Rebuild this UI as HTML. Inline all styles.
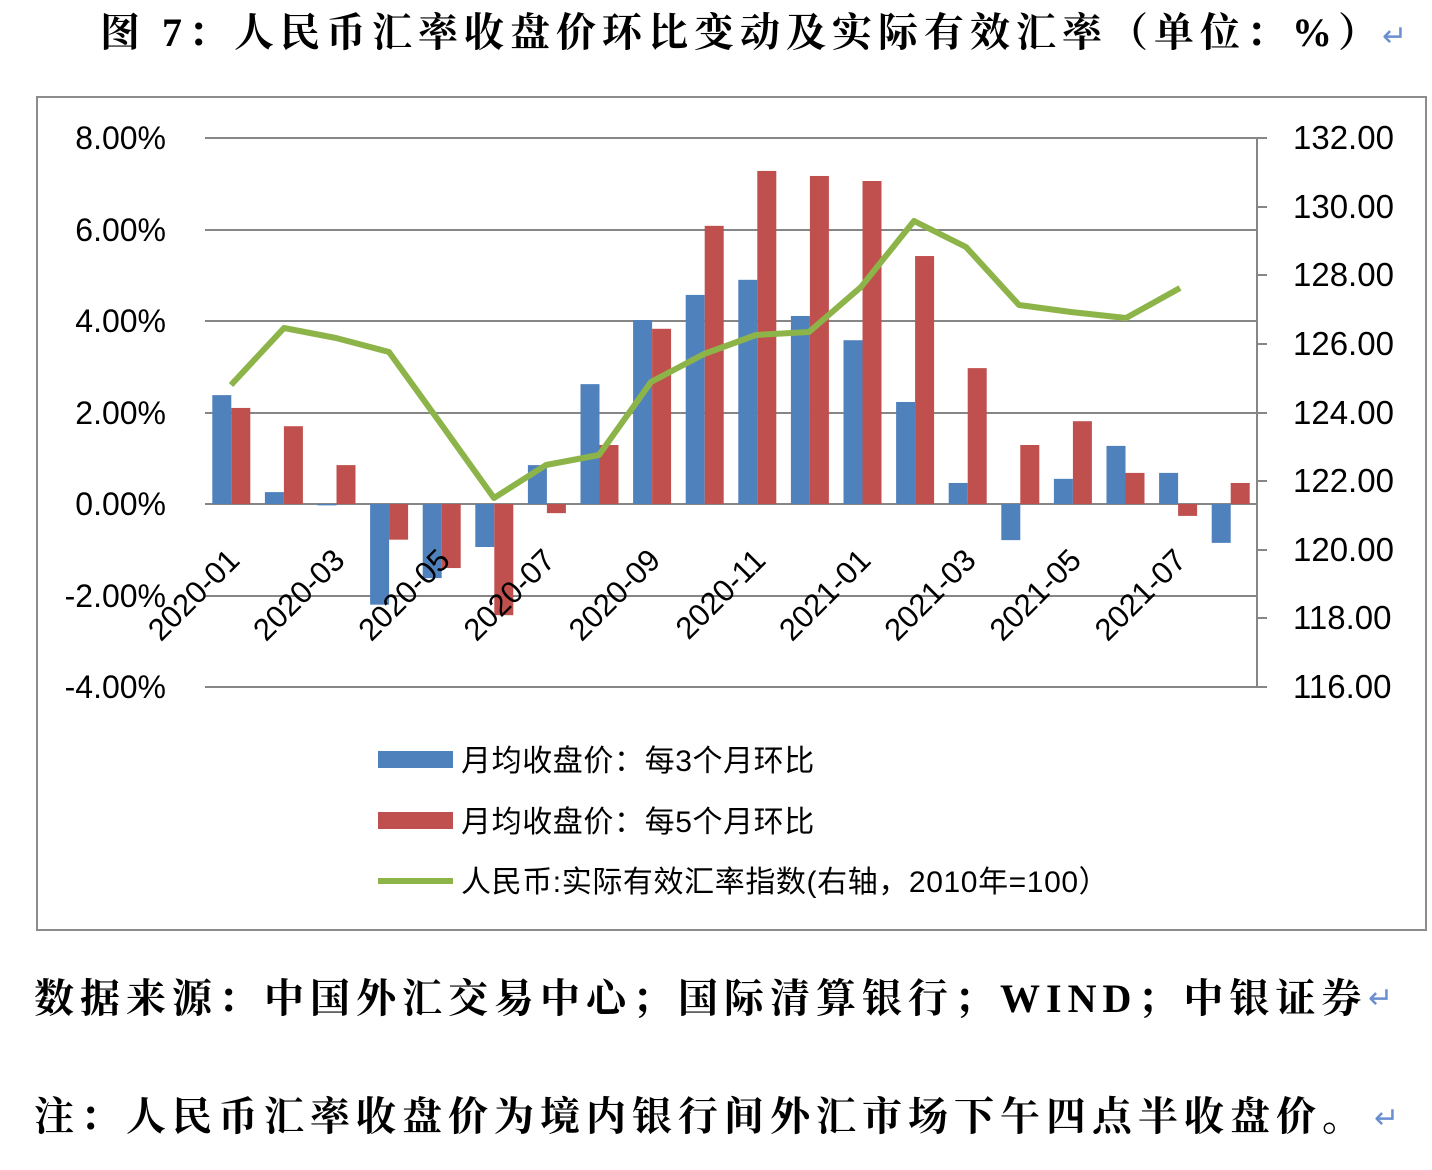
<!DOCTYPE html>
<html><head><meta charset="utf-8"><style>
html,body{margin:0;padding:0;background:#fff;}
svg{display:block;}
.t{font-family:"Liberation Serif","Noto Serif CJK SC",serif;font-weight:bold;}
.s{font-family:"Liberation Sans","Noto Sans CJK SC",sans-serif;}
</style></head><body>
<svg width="1432" height="1170" xmlns="http://www.w3.org/2000/svg">
<text class="t" x="100" y="46" font-size="40" letter-spacing="6">图 7：人民币汇率收盘价环比变动及实际有效汇率（单位：%）</text>
<text x="1382" y="46" font-size="30" fill="#6a8fd0" class="s">↵</text>
<rect x="37" y="97" width="1389" height="833" fill="none" stroke="#8c8c8c" stroke-width="2"/>
<g stroke="#868686" stroke-width="2">
<line x1="205" y1="138" x2="1257" y2="138"/><line x1="205" y1="230" x2="1257" y2="230"/>
<line x1="205" y1="321" x2="1257" y2="321"/><line x1="205" y1="413" x2="1257" y2="413"/>
<line x1="205" y1="504" x2="1257" y2="504"/><line x1="205" y1="596" x2="1257" y2="596"/>
<line x1="205" y1="687" x2="1257" y2="687"/>
<line x1="1257" y1="138" x2="1257" y2="687"/>
<line x1="1257" y1="138" x2="1267" y2="138"/><line x1="1257" y1="207" x2="1267" y2="207"/>
<line x1="1257" y1="275" x2="1267" y2="275"/><line x1="1257" y1="344" x2="1267" y2="344"/>
<line x1="1257" y1="413" x2="1267" y2="413"/><line x1="1257" y1="481" x2="1267" y2="481"/>
<line x1="1257" y1="550" x2="1267" y2="550"/><line x1="1257" y1="618" x2="1267" y2="618"/>
<line x1="1257" y1="687" x2="1267" y2="687"/>
</g>
<g class="s" font-size="32" fill="#000" text-anchor="end">
<text x="166" y="149">8.00%</text><text x="166" y="241">6.00%</text><text x="166" y="332">4.00%</text>
<text x="166" y="424">2.00%</text><text x="166" y="515">0.00%</text><text x="166" y="607">-2.00%</text>
<text x="166" y="698">-4.00%</text>
</g>
<g class="s" font-size="33" fill="#000">
<text x="1293" y="149">132.00</text><text x="1293" y="218">130.00</text><text x="1293" y="286">128.00</text>
<text x="1293" y="355">126.00</text><text x="1293" y="424">124.00</text><text x="1293" y="492">122.00</text>
<text x="1293" y="561">120.00</text><text x="1293" y="629">118.00</text><text x="1293" y="698">116.00</text>
</g>
<g id="bars"></g>
<polyline fill="none" stroke="#8db449" stroke-width="6" stroke-linejoin="round" points="231,385 284,328 336,338 389,352 441,424 494,498 546,465 599,455 651,382 704,354 756,335 809,332 861,287 914,221 966,247 1019,305 1071,312 1126,318 1180,288"/>
<g id="xl" class="s" font-size="31" fill="#000"></g>
<rect x="378" y="751" width="75" height="17" fill="#4f81bd"/>
<rect x="378" y="812" width="75" height="17" fill="#c0504d"/>
<line x1="378" y1="881" x2="453" y2="881" stroke="#8db449" stroke-width="6"/>
<g class="s" font-size="30" fill="#000" letter-spacing="0.6">
<text x="461" y="771">月均收盘价：每3个月环比</text>
<text x="461" y="832">月均收盘价：每5个月环比</text>
<text x="461" y="892">人民币:实际有效汇率指数(右轴，2010年=100）</text>
</g>
<text class="t" x="34" y="1012" font-size="40" letter-spacing="6">数据来源：中国外汇交易中心；国际清算银行；WIND；中银证券</text>
<text x="1368" y="1008" font-size="30" fill="#6a8fd0" class="s">↵</text>
<text class="t" x="34" y="1130" font-size="40" letter-spacing="6">注：人民币汇率收盘价为境内银行间外汇市场下午四点半收盘价。</text>
<text x="1374" y="1128" font-size="30" fill="#6a8fd0" class="s">↵</text>
</svg>
<script>
var b=[2.38,0.26,-0.03,-2.2,-1.62,-0.94,0.85,2.62,4.02,4.57,4.9,4.11,3.58,2.23,0.46,-0.79,0.55,1.27,0.68,-0.85];
var r=[2.10,1.70,0.85,-0.78,-1.4,-2.43,-0.2,1.29,3.83,6.08,7.28,7.17,7.06,5.42,2.97,1.29,1.81,0.68,-0.26,0.46];
var g=document.getElementById('bars'),s="";
function bar(x,v,c){var y0=504,h=v*45.75;var y=h>0?y0-h:y0;s+='<rect x="'+x+'" y="'+y+'" width="19" height="'+Math.max(Math.abs(h),1)+'" fill="'+c+'"/>';}
for(var i=0;i<20;i++){var c=205+52.6*i+26.3;bar(c-19,b[i],'#4f81bd');bar(c,r[i],'#c0504d');}
g.innerHTML=s;
var lab=["2020-01","2020-03","2020-05","2020-07","2020-09","2020-11","2021-01","2021-03","2021-05","2021-07"],t="";
for(var j=0;j<10;j++){var x=205+52.6*(2*j)+26.3+10,y=562;t+='<text x="'+x+'" y="'+y+'" text-anchor="end" transform="rotate(-45 '+x+' '+y+')">'+lab[j]+'</text>';}
document.getElementById('xl').innerHTML=t;
</script>
</body></html>
